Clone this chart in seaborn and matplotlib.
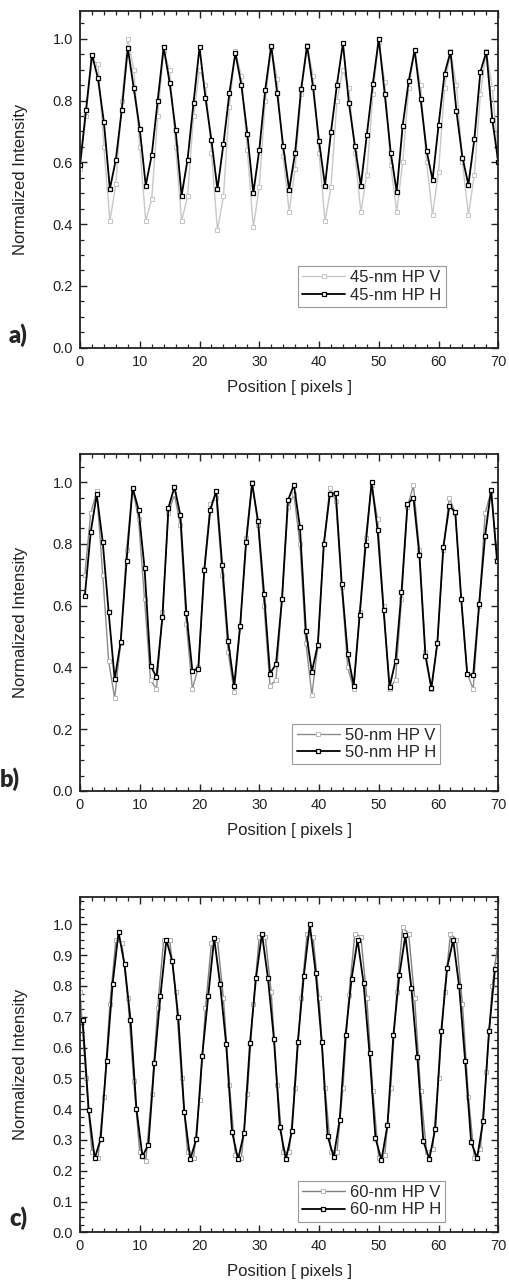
import matplotlib
matplotlib.use('Agg')
import matplotlib.pyplot as plt
import seaborn as sns
from matplotlib.ticker import MultipleLocator

# profile data (one sample per pixel)
# a) 45-nm half pitch
x_a = list(range(71))
v_a = [0.58, 0.75, 0.93, 0.92, 0.65, 0.41, 0.53, 0.80, 1.00, 0.90,
       0.65, 0.41, 0.48, 0.75, 0.96, 0.90, 0.65, 0.41, 0.49, 0.75,
       0.90, 0.85, 0.63, 0.38, 0.49, 0.78, 0.96, 0.88, 0.64, 0.39,
       0.52, 0.80, 0.97, 0.87, 0.62, 0.44, 0.58, 0.82, 0.98, 0.88,
       0.63, 0.41, 0.52, 0.80, 0.90, 0.84, 0.63, 0.44, 0.56, 0.82,
       0.99, 0.86, 0.59, 0.44, 0.60, 0.84, 0.96, 0.85, 0.60, 0.43,
       0.57, 0.84, 0.96, 0.85, 0.60, 0.43, 0.56, 0.82, 0.96, 0.84,
       0.62]
h_a = [0.592, 0.768, 0.948, 0.873, 0.730, 0.514, 0.609, 0.771, 0.970, 0.840,
       0.708, 0.525, 0.623, 0.800, 0.973, 0.858, 0.705, 0.492, 0.609, 0.793,
       0.973, 0.808, 0.671, 0.513, 0.659, 0.824, 0.954, 0.851, 0.693, 0.500,
       0.640, 0.835, 0.978, 0.824, 0.652, 0.511, 0.631, 0.836, 0.978, 0.843,
       0.668, 0.525, 0.698, 0.852, 0.986, 0.792, 0.654, 0.525, 0.689, 0.854,
       1.000, 0.821, 0.631, 0.505, 0.719, 0.862, 0.964, 0.805, 0.638, 0.543,
       0.720, 0.886, 0.958, 0.765, 0.615, 0.528, 0.676, 0.893, 0.958, 0.738,
       0.600]

# b) 50-nm half pitch
x_b = [k + 0.8 for k in range(70)]
v_b = [0.70, 0.90, 0.97, 0.70, 0.42, 0.30, 0.48, 0.78, 0.98, 0.88,
       0.62, 0.36, 0.33, 0.58, 0.90, 0.96, 0.86, 0.54, 0.33, 0.40,
       0.72, 0.93, 0.95, 0.70, 0.45, 0.32, 0.53, 0.82, 1.00, 0.86,
       0.60, 0.34, 0.36, 0.62, 0.92, 0.96, 0.80, 0.48, 0.31, 0.47,
       0.80, 0.98, 0.94, 0.66, 0.40, 0.33, 0.58, 0.82, 0.99, 0.88,
       0.60, 0.33, 0.36, 0.62, 0.92, 0.99, 0.78, 0.45, 0.33, 0.48,
       0.78, 0.95, 0.90, 0.62, 0.38, 0.33, 0.60, 0.90, 0.97, 0.75]
h_b = [0.630, 0.839, 0.960, 0.807, 0.578, 0.362, 0.482, 0.746, 0.982, 0.911,
       0.722, 0.406, 0.369, 0.563, 0.917, 0.984, 0.893, 0.576, 0.390, 0.396,
       0.715, 0.911, 0.971, 0.731, 0.484, 0.341, 0.535, 0.805, 0.996, 0.873,
       0.639, 0.380, 0.411, 0.620, 0.941, 0.991, 0.855, 0.519, 0.386, 0.474,
       0.798, 0.960, 0.966, 0.671, 0.444, 0.341, 0.569, 0.796, 1.000, 0.844,
       0.587, 0.336, 0.422, 0.643, 0.928, 0.949, 0.763, 0.438, 0.333, 0.479,
       0.790, 0.922, 0.903, 0.620, 0.379, 0.374, 0.606, 0.827, 0.976, 0.744]

# c) 60-nm half pitch
x_cv = list(range(71))
v_c = [0.78, 0.50, 0.26, 0.24, 0.44, 0.74, 0.95, 0.94, 0.76, 0.49,
       0.26, 0.23, 0.45, 0.73, 0.95, 0.95, 0.78, 0.50, 0.26, 0.24,
       0.43, 0.73, 0.94, 0.95, 0.76, 0.48, 0.25, 0.24, 0.45, 0.74,
       0.96, 0.96, 0.78, 0.48, 0.26, 0.26, 0.47, 0.76, 0.97, 0.96,
       0.76, 0.47, 0.26, 0.26, 0.47, 0.77, 0.97, 0.96, 0.76, 0.46,
       0.24, 0.25, 0.47, 0.78, 0.99, 0.97, 0.76, 0.46, 0.26, 0.27,
       0.50, 0.78, 0.97, 0.95, 0.74, 0.44, 0.24, 0.27, 0.52, 0.80,
       0.95]
x_ch = [k + 0.45 for k in range(70)]
h_c = [0.689, 0.397, 0.240, 0.302, 0.557, 0.805, 0.975, 0.870, 0.691, 0.399,
       0.247, 0.285, 0.551, 0.766, 0.950, 0.880, 0.698, 0.391, 0.237, 0.302,
       0.573, 0.766, 0.955, 0.805, 0.613, 0.326, 0.237, 0.323, 0.615, 0.826,
       0.970, 0.826, 0.629, 0.341, 0.237, 0.328, 0.618, 0.832, 1.000, 0.842,
       0.618, 0.312, 0.245, 0.364, 0.642, 0.824, 0.950, 0.810, 0.581, 0.305,
       0.235, 0.348, 0.642, 0.837, 0.964, 0.794, 0.570, 0.297, 0.237, 0.337,
       0.653, 0.860, 0.950, 0.799, 0.557, 0.294, 0.240, 0.361, 0.654, 0.856]

sns.set_style('ticks')
plt.rcParams['font.family'] = ['Liberation Sans', 'DejaVu Sans']

W, H = 509, 1283
fig = plt.figure(figsize=(W / 100, H / 100), dpi=100)


def panel(top, bottom, xv, v, xh, h, tag, vcol, vmark, ymaj, ymin, leg_xy, letter, letter_xy):
    ax = fig.add_axes([80 / W, 1 - bottom / H, 418.3 / W, (bottom - top) / H])
    sns.lineplot(x=xv, y=v, ax=ax, color=vcol, linewidth=1.0, marker='s',
                 markersize=3.0, markerfacecolor='white', markeredgecolor=vmark,
                 markeredgewidth=0.7, estimator=None, sort=False,
                 label=tag + '-nm HP V')
    sns.lineplot(x=xh, y=h, ax=ax, color='black', linewidth=1.3, marker='s',
                 markersize=3.1, markerfacecolor='white', markeredgecolor='black',
                 markeredgewidth=0.9, estimator=None, sort=False,
                 label=tag + '-nm HP H')
    ax.set_xlim(0, 70)
    ax.set_ylim(0, 1.09)
    ax.xaxis.set_major_locator(MultipleLocator(10))
    ax.xaxis.set_minor_locator(MultipleLocator(2))
    ax.yaxis.set_major_locator(MultipleLocator(ymaj))
    ax.yaxis.set_minor_locator(MultipleLocator(ymin))
    ax.yaxis.set_major_formatter(plt.FormatStrFormatter('%.1f'))
    ax.tick_params(which='both', direction='in', top=True, right=True,
                   labelsize=10.5, colors='#222222', pad=5)
    ax.tick_params(which='major', length=5, width=1.0)
    ax.tick_params(which='minor', length=2.8, width=0.9)
    for s in ax.spines.values():
        s.set_linewidth(1.3)
        s.set_color('#222222')
    ax.set_xlabel('Position [ pixels ]', fontsize=12, color='#222222')
    ax.set_ylabel('Normalized Intensity', fontsize=12, color='#222222')
    ax.xaxis.set_label_coords(0.5, -0.095)
    ax.yaxis.set_label_coords(-0.125, 0.5)
    leg = ax.legend(loc='lower left', bbox_to_anchor=leg_xy, borderaxespad=0,
                    fontsize=12, frameon=True, fancybox=False, framealpha=1,
                    edgecolor='#9a9a9a', handlelength=2.6, handletextpad=0.3,
                    borderpad=0.25, labelspacing=0.15)
    leg.get_frame().set_linewidth(0.8)
    fig.text(letter_xy[0] / W, 1 - letter_xy[1] / H, letter, fontsize=17,
             fontweight='heavy', family=['Lato', 'DejaVu Sans'], va='bottom')
    return ax


panel(11, 347.7, x_a, v_a, x_a, h_a, '45', '#c8c8c8', '#c4c4c4', 0.2, 0.05,
      (0.521, 0.121), 'a)', (9, 347))
panel(454.3, 791, x_b, v_b, x_b, h_b, '50', '#8c8c8c', '#b8b8b8', 0.2, 0.05,
      (0.508, 0.079), 'b)', (0, 791))
panel(896.7, 1232.3, x_cv, v_c, x_ch, h_c, '60', '#808080', '#b0b0b0', 0.1, 0.025,
      (0.520, 0.032), 'c)', (9, 1230))

fig.savefig('out.png', dpi=100)
